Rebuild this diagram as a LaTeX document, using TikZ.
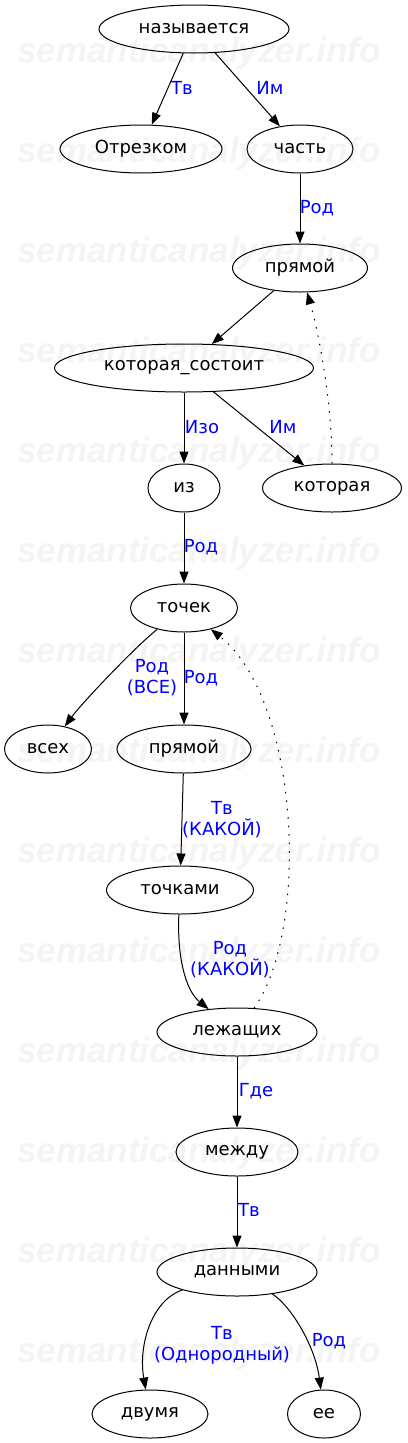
\documentclass[tikz,border=0pt]{standalone}
\usepackage{fontspec}
\setmainfont{DejaVu Sans}
\newfontfamily\wmfont{Liberation Sans}
\usetikzlibrary{shapes.geometric,arrows.meta}
\definecolor{wmgray}{RGB}{244,244,244}
\definecolor{lblblue}{RGB}{0,0,255}
\begin{document}
\begin{tikzpicture}[x=1pt,y=-1pt,
  nd/.style={ellipse,draw,line width=1pt,inner sep=0pt,minimum height=48pt,font=\fontsize{18}{21}\selectfont},
  lbl/.style={text=lblblue,align=center,inner sep=0pt,font=\fontsize{18}{21}\selectfont},
  edge/.style={line width=1pt,-{Triangle[length=12pt,width=9pt]}},
  dotedge/.style={edge,dash pattern=on 1.5pt off 7pt},
  wm/.style={text=wmgray,font=\wmfont\fontsize{35}{40}\selectfont\bfseries\itshape,anchor=base,inner sep=0pt}]
\useasboundingbox (0,0) rectangle (407,1443);
\foreach \k in {0,...,13} \node[wm] (wm\k) at (199,62+100*\k) {semanticanalyzer.info};

\node[nd,minimum width=190pt] (n1) at (194,29) {называется};
\node[nd,minimum width=162pt] (otr) at (141,149) {Отрезком};
\node[nd,minimum width=106pt] (chast) at (300,149) {часть};
\node[nd,minimum width=135pt] (pr1) at (300,268) {прямой};
\node[nd,minimum width=259pt] (ks) at (184,368) {которая\_состоит};
\node[nd,minimum width=72pt] (iz) at (184,488) {из};
\node[nd,minimum width=139pt] (kot) at (332,488) {которая};
\node[nd,minimum width=107pt] (toch) at (184,608) {точек};
\node[nd,minimum width=87pt] (vseh) at (48,749) {всех};
\node[nd,minimum width=134pt] (pr2) at (184,749) {прямой};
\node[nd,minimum width=147pt] (tochk) at (180,890) {точками};
\node[nd,minimum width=160pt] (lezh) at (237,1032) {лежащих};
\node[nd,minimum width=122pt] (mezh) at (237,1152) {между};
\node[nd,minimum width=160pt] (dann) at (237,1272) {данными};
\node[nd,minimum width=116pt] (dvum) at (150,1414) {двумя};
\node[nd,minimum width=73pt] (ee) at (324,1414) {ее};

\draw[edge] (n1) -- (otr);
\draw[edge] (n1) -- (chast);
\draw[edge] (chast) -- (pr1);
\draw[edge] (pr1) -- (ks);
\draw[edge] (ks) -- (iz);
\draw[edge] (ks) -- (kot);
\draw[dotedge] (kot) .. controls (332,400) and (318,330) .. (pr1);
\draw[edge] (iz) -- (toch);
\draw[edge] (toch) .. controls (135,647) and (82,703) .. (vseh);
\draw[edge] (toch) -- (pr2);
\draw[edge] (pr2) -- (tochk);
\draw[edge] (tochk) .. controls (177,955) and (185,990) .. (lezh);
\draw[dotedge] (lezh) .. controls (310,930) and (300,700) .. (toch);
\draw[edge] (lezh) -- (mezh);
\draw[edge] (mezh) -- (dann);
\draw[edge] (dann) .. controls (152,1300) and (138,1345) .. (dvum);
\draw[edge] (dann) .. controls (290,1305) and (315,1345) .. (ee);

\node[lbl] (l1) at (182,88) {Тв};
\node[lbl] (l2) at (270,88) {Им};
\node[lbl] (l3) at (317,208) {Род};
\node[lbl] (l4) at (202,427) {Изо};
\node[lbl] (l5) at (283,427) {Им};
\node[lbl] (l6) at (201,547) {Род};
\node[lbl] (l7) at (152,678) {Род\\(ВСЕ)};
\node[lbl] (l8) at (201,678) {Род};
\node[lbl] (l9) at (222,820) {Тв\\(КАКОЙ)};
\node[lbl] (l10) at (230,960) {Род\\(КАКОЙ)};
\node[lbl] (l11) at (256,1091) {Где};
\node[lbl] (l12) at (249,1210) {Тв};
\node[lbl] (l13) at (222,1345) {Тв\\(Однородный)};
\node[lbl] (l14) at (329,1341) {Род};
\end{tikzpicture}
\end{document}
